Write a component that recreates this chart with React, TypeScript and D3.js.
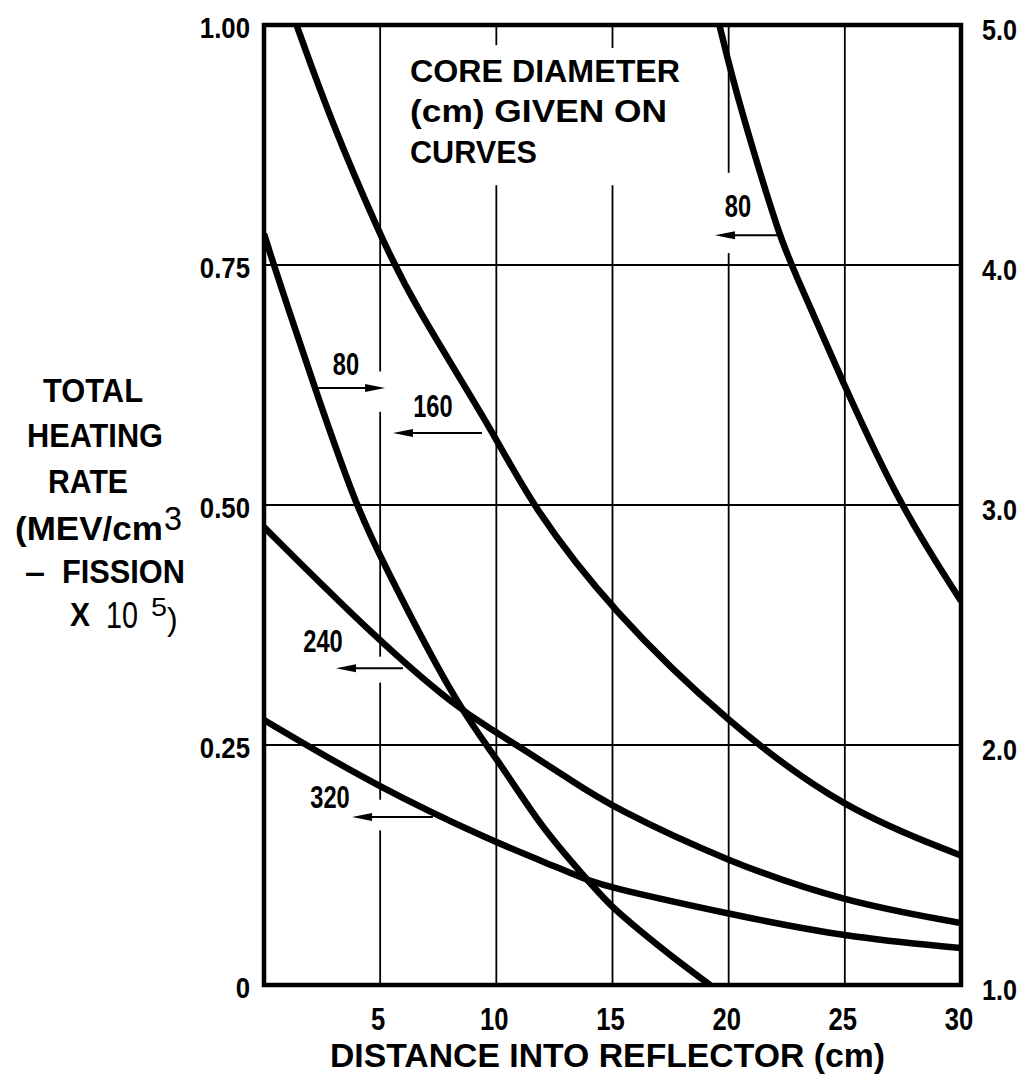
import React from 'react';
import * as d3 from 'd3';

// ---------- data ----------
const xTicks = [5, 10, 15, 20, 25, 30];
const xTickLabels = ['5', '10', '15', '20', '25', '30'];
const yLeftTicks = [0, 0.25, 0.5, 0.75, 1.0];
const yLeftLabels = ['0', '0.25', '0.50', '0.75', '1.00'];
const yRightTicks = [1, 2, 3, 4, 5];
const yRightLabels = ['1.0', '2.0', '3.0', '4.0', '5.0'];
const gridX = [5, 10, 15, 20, 25];
const gridY = [0.25, 0.5, 0.75];

// 80 cm core, steep branch (read on the right-hand scale)
const c80aX = [0, 0.39, 0.9, 2.28, 3.92, 4.91, 8.31, 10, 11.9, 13.9, 14.9, 16.2, 17.6, 19.2];
const c80aY = [4.13, 4.01, 3.86, 3.46, 3.01, 2.8, 2.16, 1.95, 1.66, 1.44, 1.33, 1.225, 1.115, 1.0];
// 80 cm core, continuation (left-hand scale)
const c80bX = [19.6, 20.1, 21.04, 22.2, 22.7, 25, 27.35, 30];
const c80bY = [1.0, 0.95, 0.87, 0.78, 0.75, 0.623, 0.5, 0.4];
// 160 cm core
const c160X = [1.4, 2.9, 5.0, 6.33, 10, 11.5, 15, 20, 25, 30];
const c160Y = [1.0, 0.899, 0.781, 0.714, 0.571, 0.5, 0.389, 0.272, 0.182, 0.135];
// 240 cm core
const c240X = [0, 4.9, 8.3, 9.8, 11.0, 13.2, 15, 20, 25, 30];
const c240Y = [0.477, 0.359, 0.289, 0.266, 0.248, 0.2135, 0.185, 0.128, 0.0865, 0.0646];
// 320 cm core
const c320X = [0, 4.9, 10, 11.9, 13.9, 15, 20, 25, 30];
const c320Y = [0.276, 0.206, 0.148, 0.13, 0.109, 0.101, 0.074, 0.05, 0.0385];

// ---------- layout ----------
const W = 1026;
const H = 1075;
const PL = 264, PR = 961, PT = 25, PB = 985;
const FONT = '"Liberation Sans", Arial, Helvetica, sans-serif';

const x = d3.scaleLinear().domain([0, 30]).range([PL, PR]);
const yL = d3.scaleLinear().domain([0, 1]).range([PB, PT]);
const yR = d3.scaleLinear().domain([1, 5]).range([PB, PT]);

type Series = { xs: number[]; ys: number[]; axis: 'L' | 'R' };
const series: Series[] = [
  { xs: c80aX, ys: c80aY, axis: 'R' },
  { xs: c80bX, ys: c80bY, axis: 'L' },
  { xs: c160X, ys: c160Y, axis: 'L' },
  { xs: c240X, ys: c240Y, axis: 'L' },
  { xs: c320X, ys: c320Y, axis: 'L' },
];

// gaps in the vertical grid lines (left-scale units), where labels / arrows sit
const gridGaps: Record<number, [number, number][]> = {
  5: [[0.161, 0.193], [0.315, 0.342], [0.597, 0.639]],
  10: [[0.833, 0.979]],
  15: [[0.833, 0.976]],
  20: [[0.7625, 0.846]],
  25: [],
};

// curve annotations: label position and arrow (from -> to), in left-scale data units
const annots = [
  { text: '80', lx: 3.53, ly: 0.635, ax0: 2.32, ax1: 5.21, ay: 0.622 },
  { text: '160', lx: 7.27, ly: 0.592, ax0: 9.38, ax1: 5.55, ay: 0.575 },
  { text: '240', lx: 2.54, ly: 0.347, ax0: 5.98, ax1: 3.1, ay: 0.33 },
  { text: '320', lx: 2.84, ly: 0.184, ax0: 7.27, ax1: 3.79, ay: 0.175 },
  { text: '80', lx: 20.4, ly: 0.8, ax0: 22.34, ax1: 19.41, ay: 0.781 },
];

function segments(gaps: [number, number][]) {
  const segs: [number, number][] = [];
  let start = 0;
  const sorted = [...gaps].sort((a, b) => a[0] - b[0]);
  for (const g of sorted) {
    segs.push([start, g[0]]);
    start = g[1];
  }
  segs.push([start, 1]);
  return segs;
}

export default function App() {
  const line = d3
    .line<[number, number]>()
    .x((d) => d[0])
    .y((d) => d[1])
    .curve(d3.curveBasis);

  return (
    <svg
      width={W}
      height={H}
      viewBox={`0 0 ${W} ${H}`}
      style={{ position: 'absolute', left: 0, top: 0, background: '#fff' }}
      fontFamily={FONT}
    >
      <defs>
        <clipPath id="plot">
          <rect x={PL} y={PT} width={PR - PL} height={PB - PT} />
        </clipPath>
      </defs>
      <rect x={0} y={0} width={W} height={H} fill="#fff" />

      {/* horizontal grid */}
      {gridY.map((v) => (
        <line key={'gy' + v} x1={PL} x2={PR} y1={yL(v)} y2={yL(v)} stroke="#000" strokeWidth={1.8} />
      ))}
      {/* vertical grid with gaps */}
      {gridX.map((v) =>
        segments(gridGaps[v] || []).map((s, i) => (
          <line
            key={'gx' + v + '-' + i}
            x1={x(v)}
            x2={x(v)}
            y1={yL(s[0])}
            y2={yL(s[1])}
            stroke="#000"
            strokeWidth={1.8}
          />
        ))
      )}

      {/* curves */}
      <g clipPath="url(#plot)">
        {series.map((s, i) => {
          const sy = s.axis === 'L' ? yL : yR;
          const pts: [number, number][] = s.xs.map((xv, j) => [x(xv), sy(s.ys[j])]);
          return (
            <path
              key={'c' + i}
              d={line(pts) || ''}
              fill="none"
              stroke="#000"
              strokeWidth={6.5}
              strokeLinejoin="round"
            />
          );
        })}
      </g>

      {/* frame */}
      <rect x={PL} y={PT} width={PR - PL} height={PB - PT} fill="none" stroke="#000" strokeWidth={4.5} />

      {/* annotations */}
      {annots.map((a, i) => {
        const x0 = x(a.ax0);
        const x1 = x(a.ax1);
        const yy = yL(a.ay);
        const dir = Math.sign(x1 - x0);
        const hl = 20;
        const hw = 4;
        return (
          <g key={'a' + i}>
            <line x1={x0} x2={x1 - dir * hl * 0.6} y1={yy} y2={yy} stroke="#000" strokeWidth={2} />
            <path
              d={`M${x1},${yy} L${x1 - dir * hl},${yy - hw} L${x1 - dir * hl},${yy + hw} Z`}
              fill="#000"
            />
            <text
              transform={`translate(${x(a.lx)},${yL(a.ly)}) scale(0.74,1)`}
              textAnchor="middle"
              fontSize={32}
              fontWeight="bold"
            >
              {a.text}
            </text>
          </g>
        );
      })}

      {/* left tick labels */}
      {yLeftTicks.map((v, i) => (
        <text
          key={'yl' + v}
          transform={`translate(250,${yL(v) + 13}) scale(0.86,1)`}
          textAnchor="end"
          fontSize={30}
          fontWeight="bold"
        >
          {yLeftLabels[i]}
        </text>
      ))}
      {/* right tick labels */}
      {yRightTicks.map((v, i) => (
        <text
          key={'yr' + v}
          transform={`translate(982,${yR(v) + 15}) scale(0.84,1)`}
          textAnchor="start"
          fontSize={30}
          fontWeight="bold"
        >
          {yRightLabels[i]}
        </text>
      ))}
      {/* bottom tick labels */}
      {xTicks.map((v, i) => (
        <text
          key={'xt' + v}
          transform={`translate(${x(v) - 2},1030) scale(0.8,1)`}
          textAnchor="middle"
          fontSize={32}
          fontWeight="bold"
        >
          {xTickLabels[i]}
        </text>
      ))}

      {/* x-axis title */}
      <text x={330} y={1067} fontSize={33} fontWeight="bold" textLength={555} lengthAdjust="spacingAndGlyphs">
        DISTANCE INTO REFLECTOR (cm)
      </text>

      {/* in-plot note */}
      <g fontSize={32} fontWeight="bold">
        <text x={410} y={82} textLength={270} lengthAdjust="spacingAndGlyphs">CORE DIAMETER</text>
        <text x={410} y={122} textLength={257} lengthAdjust="spacingAndGlyphs">(cm) GIVEN ON</text>
        <text x={410} y={163} textLength={127} lengthAdjust="spacingAndGlyphs">CURVES</text>
      </g>

      {/* y-axis title */}
      <g fontSize={34} fontWeight="bold">
        <text x={43} y={402} textLength={100} lengthAdjust="spacingAndGlyphs">TOTAL</text>
        <text x={27} y={447} textLength={136} lengthAdjust="spacingAndGlyphs">HEATING</text>
        <text x={48} y={493} textLength={80} lengthAdjust="spacingAndGlyphs">RATE</text>
        <text x={15} y={540} textLength={148} lengthAdjust="spacingAndGlyphs">(MEV/cm</text>
        <text x={164} y={530} fontSize={34} fontWeight="normal" textLength={18} lengthAdjust="spacingAndGlyphs">3</text>
        <text x={25} y={583} textLength={20} lengthAdjust="spacingAndGlyphs">–</text>
        <text x={62} y={583} textLength={123} lengthAdjust="spacingAndGlyphs">FISSION</text>
        <text x={70} y={626} textLength={20} lengthAdjust="spacingAndGlyphs">X</text>
        <text x={106} y={628} fontSize={36} fontWeight="normal" textLength={32} lengthAdjust="spacingAndGlyphs">10</text>
        <text x={151} y={616} fontSize={26} fontWeight="normal" textLength={16} lengthAdjust="spacingAndGlyphs">5</text>
        <text x={167} y={630} fontSize={32} fontWeight="normal">)</text>
      </g>
    </svg>
  );
}
